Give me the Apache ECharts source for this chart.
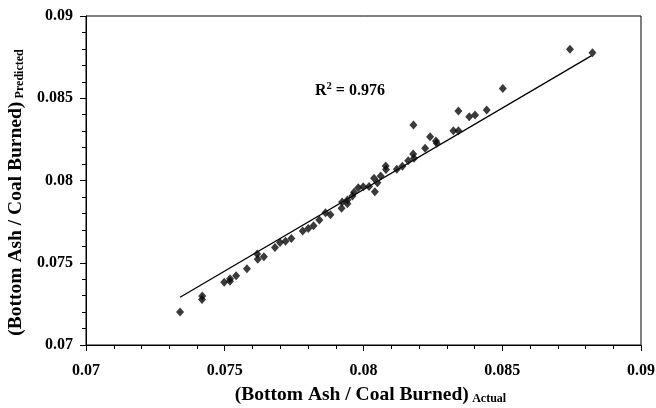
<!DOCTYPE html>
<html>
<head>
<meta charset="utf-8">
<script src="https://cdn.jsdelivr.net/npm/echarts@6/dist/echarts.min.js"></script>
<style>
  html, body { margin: 0; padding: 0; background: #fff; }
  #chart { width: 656px; height: 408px; }
</style>
</head>
<body>
<div id="chart"></div>
<script>
// actual vs predicted ratio values
var actual = [
    0.07339, 0.07419, 0.07418, 0.07498, 0.07519, 0.07519, 0.07541, 0.0758,
    0.07617, 0.07619, 0.07641, 0.07681, 0.07699, 0.07719, 0.0774, 0.07781,
    0.07801, 0.0782, 0.07841, 0.07863, 0.07881, 0.07921, 0.07923, 0.07942,
    0.07942, 0.0796, 0.07966, 0.07981, 0.07999, 0.0802, 0.08041, 0.08038,
    0.0805, 0.08062, 0.0808, 0.08081, 0.0812, 0.0814, 0.08161, 0.08179,
    0.08182, 0.0818, 0.08222, 0.0824, 0.08261, 0.08264, 0.08324, 0.08342,
    0.08342, 0.08381, 0.08402, 0.08444, 0.08502, 0.08744, 0.08825
];
var predicted = [
    0.0720, 0.07298, 0.07277, 0.07381, 0.07387, 0.07403, 0.07421, 0.07464,
    0.07553, 0.07521, 0.07537, 0.07592, 0.07623, 0.0763, 0.07647, 0.07693,
    0.07708, 0.07725, 0.0776, 0.07804, 0.07792, 0.07831, 0.07869, 0.07881,
    0.07859, 0.07906, 0.07928, 0.07956, 0.07962, 0.07964, 0.07932, 0.08013,
    0.07987, 0.08027, 0.08088, 0.08067, 0.08068, 0.08086, 0.0812, 0.08161,
    0.08135, 0.08337, 0.08196, 0.08266, 0.0824, 0.08226, 0.08303, 0.08303,
    0.08422, 0.08388, 0.08398, 0.08429, 0.0856, 0.08798, 0.08777
];
// fitted trend line ends
var fitX = [0.07339, 0.08822];
var fitY = [0.0729, 0.08759];
var r2Text = '0.976';

var points = actual.map(function (v, i) { return [v, predicted[i]]; });
var fitLine = fitX.map(function (v, i) { return [v, fitY[i]]; });

var font = 'Liberation Serif';
var myChart = echarts.init(document.getElementById('chart'));

// rich styles for the axis titles with a subscript
var titleRich = {
    a: { fontFamily: font, fontWeight: 'bold', fontSize: 19.5, color: '#000', lineHeight: 22 },
    s: { fontFamily: font, fontWeight: 'bold', fontSize: 12, color: '#000', lineHeight: 22, padding: [8, 0, 0, 0] }
};

var axisCommon = {
    type: 'value',
    min: 0.07,
    max: 0.09,
    interval: 0.005,
    splitLine: { show: false },
    axisLine: { onZero: false, lineStyle: { color: '#000', width: 1 } },
    axisTick: { show: true, inside: false, length: 6, lineStyle: { color: '#000' } },
    minorTick: { show: true, splitNumber: 5, length: 4, lineStyle: { color: '#000', width: 1 } },
    axisLabel: {
        color: '#000', fontFamily: font, fontWeight: 'bold', fontSize: 16,
        formatter: function (v) { return String(+v.toFixed(4)); }
    },
    nameLocation: 'middle'
};

var option = {
    animation: false,
    backgroundColor: '#fff',
    grid: {
        left: 86, right: 15, top: 16, bottom: 63,
        outerBoundsMode: 'none',
        containLabel: false,
        show: true, borderColor: '#000', borderWidth: 1
    },
    xAxis: Object.assign({}, axisCommon, {
        name: '{a|(Bottom Ash / Coal Burned)} {s|Actual}',
        nameGap: 39,
        axisLabel: Object.assign({}, axisCommon.axisLabel, { margin: 18 }),
        nameTextStyle: { padding: [0, 0, 0, 14], rich: titleRich }
    }),
    yAxis: Object.assign({}, axisCommon, {
        name: '{a|(Bottom Ash / Coal Burned)} {s|Predicted}',
        nameGap: 56,
        nameRotate: 90,
        axisLabel: Object.assign({}, axisCommon.axisLabel, { margin: 13 }),
        nameTextStyle: { padding: [0, 24, 0, 0], rich: titleRich }
    }),
    graphic: [{
        type: 'text',
        left: 315,
        top: 81,
        style: {
            text: '{a|R}{p|2}{a| = ' + r2Text + '}',
            rich: {
                a: { fontFamily: font, fontWeight: 'bold', fontSize: 16, fill: '#000', lineHeight: 20 },
                p: { fontFamily: font, fontWeight: 'bold', fontSize: 10.5, fill: '#000', lineHeight: 20, padding: [0, 0, 8, 0] }
            }
        }
    }],
    series: [
        {
            type: 'line',
            data: fitLine,
            showSymbol: false,
            symbol: 'none',
            lineStyle: { color: '#000', width: 1.3 },
            z: 2
        },
        {
            type: 'scatter',
            data: points,
            symbol: 'diamond',
            symbolSize: [8, 9],
            itemStyle: { color: '#0a0a0a' },
            z: 3
        }
    ]
};

myChart.setOption(option);

window.addEventListener('resize', function () {
    myChart.resize();
});
</script>
</body>
</html>
